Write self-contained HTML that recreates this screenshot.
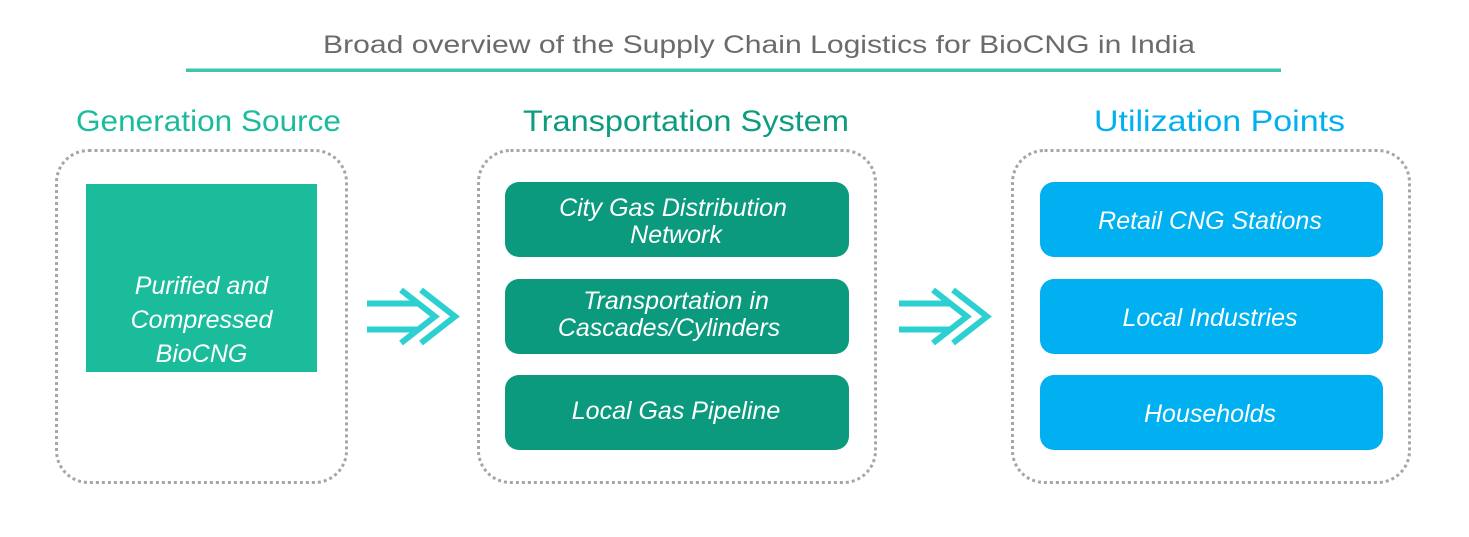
<!DOCTYPE html>
<html><head><meta charset="utf-8"><style>
html,body{margin:0;padding:0;background:#fff;}
svg{display:block}
text{font-family:"Liberation Sans",sans-serif}
.w{fill:#fff;font-style:italic;font-size:25px;text-anchor:middle}
</style></head><body>
<svg width="1469" height="537" viewBox="0 0 1469 537" xmlns="http://www.w3.org/2000/svg">
<text x="323" y="53" font-size="25" fill="#6b6b6b" textLength="872" lengthAdjust="spacingAndGlyphs">Broad overview of the Supply Chain Logistics for BioCNG in India</text>
<rect x="186" y="68.5" width="1095" height="3.5" fill="#40c4aa"/>
<text x="76" y="131" font-size="30" fill="#1abc9c" textLength="265" lengthAdjust="spacingAndGlyphs">Generation Source</text>
<text x="523" y="131" font-size="30" fill="#0e9c7f" textLength="326" lengthAdjust="spacingAndGlyphs">Transportation System</text>
<text x="1094" y="131" font-size="30" fill="#00b0f0" textLength="251" lengthAdjust="spacingAndGlyphs">Utilization Points</text>
<g fill="none" stroke="#a6a6a6" stroke-width="3" stroke-dasharray="3 3">
<rect x="56.5" y="150.5" width="290" height="332" rx="32"/>
<rect x="478.5" y="150.5" width="397" height="332" rx="32"/>
<rect x="1012.5" y="150.5" width="397" height="332" rx="32"/>
</g>
<rect x="86" y="184" width="231" height="188" fill="#1abc9c"/>
<text class="w" x="201.5" y="294">Purified and</text>
<text class="w" x="201.5" y="328">Compressed</text>
<text class="w" x="201.5" y="362">BioCNG</text>
<g fill="#0c9a7e">
<rect x="505" y="182" width="344" height="75" rx="14"/>
<rect x="505" y="279" width="344" height="75" rx="14"/>
<rect x="505" y="375" width="344" height="75" rx="14"/>
</g>
<text class="w" x="673" y="216">City Gas Distribution</text>
<text class="w" x="676" y="243">Network</text>
<text class="w" x="676" y="309">Transportation in</text>
<text class="w" x="669" y="336">Cascades/Cylinders</text>
<text class="w" x="676" y="419">Local Gas Pipeline</text>
<g fill="#00b0f0">
<rect x="1040" y="182" width="343" height="75" rx="14"/>
<rect x="1040" y="279" width="343" height="75" rx="14"/>
<rect x="1040" y="375" width="343" height="75" rx="14"/>
</g>
<text class="w" x="1210" y="229">Retail CNG Stations</text>
<text class="w" x="1210" y="326">Local Industries</text>
<text class="w" x="1210" y="422">Households</text>
<g id="arr" stroke="#2dd0d0" stroke-width="6" fill="none">
<line x1="367" y1="303.5" x2="418" y2="303.5"/>
<line x1="367" y1="329.5" x2="418" y2="329.5"/>
<polyline points="401,290 435,316.5 401,343"/>
<polyline points="421,290 455,316.5 421,343"/>
</g>
<use href="#arr" x="532"/>
</svg>
</body></html>
